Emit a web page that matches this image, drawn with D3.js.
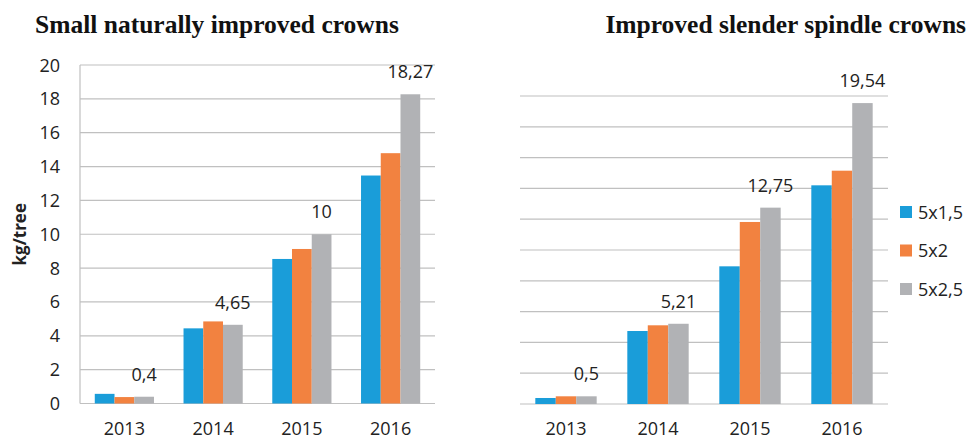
<!DOCTYPE html>
<html>
<head>
<meta charset="utf-8">
<script src="https://cdn.jsdelivr.net/npm/d3@7"></script>
<style>
  body { margin: 0; background: #fff; }
  svg { display: block; }
</style>
</head>
<body>
<script>
// data
const years = ["2013", "2014", "2015", "2016"];
const seriesNames = ["5x1,5", "5x2", "5x2,5"];
const colors = ["#1a9dd9", "#f28240", "#b1b2b5"];

// Small naturally improved crowns
const leftA = [0.57, 4.44, 8.54, 13.47];
const leftB = [0.38, 4.85, 9.13, 14.79];
const leftC = [0.4, 4.65, 10, 18.27];

// Improved slender spindle crowns
const rightA = [0.39, 4.74, 8.94, 14.2];
const rightB = [0.5, 5.11, 11.82, 15.15];
const rightC = [0.5, 5.21, 12.75, 19.54];

const yTicks = [0, 2, 4, 6, 8, 10, 12, 14, 16, 18, 20];

const svg = d3.select("body").append("svg")
  .attr("width", 969)
  .attr("height", 440);

const labelFont = "'Open Sans', 'Noto Sans', sans-serif";

function drawChart(opts) {
  const series = [opts.a, opts.b, opts.c];
  const g = svg.append("g");

  const x = d3.scaleBand().domain(years).range([opts.x0, opts.x1]).paddingInner(0.333).paddingOuter(0.1665);
  const xs = d3.scaleBand().domain([0, 1, 2]).range([0, x.bandwidth()]);
  const y = d3.scaleLinear().domain([0, 20]).range([opts.y0, opts.y1]);

  // gridlines
  g.selectAll(".grid")
    .data(yTicks)
    .join("line")
    .attr("x1", opts.x0)
    .attr("x2", opts.x1)
    .attr("y1", d => y(d))
    .attr("y2", d => y(d))
    .attr("stroke", "#c0c0c0")
    .attr("stroke-width", 1.2);

  if (opts.axis) {
    g.append("line")
      .attr("x1", opts.x0).attr("x2", opts.x0)
      .attr("y1", y(0)).attr("y2", y(20))
      .attr("stroke", "#c0c0c0")
      .attr("stroke-width", 1.2);

    g.selectAll(".ytick")
      .data(yTicks)
      .join("text")
      .attr("x", opts.x0 - 20)
      .attr("y", d => y(d) + 6.5)
      .attr("text-anchor", "end")
      .attr("font-family", labelFont)
      .attr("font-size", 18)
      .attr("fill", "#222")
      .text(d => d);

    g.append("text")
      .attr("transform", `translate(26,${(y(0) + y(20)) / 2}) rotate(-90)`)
      .attr("text-anchor", "middle")
      .attr("font-family", labelFont)
      .attr("font-weight", "bold")
      .attr("font-size", 17)
      .attr("fill", "#222")
      .text("kg/tree");
  }

  // bars
  series.forEach((vals, si) => {
    g.selectAll(".bar" + si)
      .data(vals)
      .join("rect")
      .attr("x", (d, i) => x(years[i]) + xs(si))
      .attr("y", d => y(d))
      .attr("width", xs.bandwidth())
      .attr("height", d => y(0) - y(d))
      .attr("fill", colors[si]);
  });

  // value labels on the last series
  g.selectAll(".vlab")
    .data(opts.c)
    .join("text")
    .attr("x", (d, i) => x(years[i]) + xs(2) + xs.bandwidth() / 2)
    .attr("y", d => y(d) - 16)
    .attr("text-anchor", "middle")
    .attr("font-family", labelFont)
    .attr("font-size", 18)
    .attr("fill", "#222")
    .text(d => String(d).replace(".", ","));

  // year labels
  g.selectAll(".xlab")
    .data(years)
    .join("text")
    .attr("x", d => x(d) + x.bandwidth() / 2)
    .attr("y", 434.5)
    .attr("text-anchor", "middle")
    .attr("font-family", labelFont)
    .attr("font-size", 18)
    .attr("fill", "#222")
    .text(d => d);

  // title
  svg.append("text")
    .attr("x", opts.titleX)
    .attr("y", 33)
    .attr("text-anchor", opts.titleAnchor)
    .attr("font-family", "'Liberation Serif', 'DejaVu Serif', serif")
    .attr("font-weight", "bold")
    .attr("font-size", 25.5)
    .attr("fill", "#111")
    .text(opts.title);
}

drawChart({
  a: leftA, b: leftB, c: leftC,
  x0: 80, x1: 435, y0: 403.5, y1: 65,
  axis: true,
  title: "Small naturally improved crowns",
  titleX: 35, titleAnchor: "start"
});

drawChart({
  a: rightA, b: rightB, c: rightC,
  x0: 520, x1: 888, y0: 404, y1: 96,
  axis: false,
  title: "Improved slender spindle crowns",
  titleX: 966, titleAnchor: "end"
});

// legend
const legend = svg.append("g")
  .selectAll("g")
  .data(seriesNames)
  .join("g")
  .attr("transform", (d, i) => `translate(900,${212 + i * 38.5})`);

legend.append("rect")
  .attr("x", 0).attr("y", -6)
  .attr("width", 12).attr("height", 12)
  .attr("fill", (d, i) => colors[i]);

legend.append("text")
  .attr("x", 18).attr("y", 6.5)
  .attr("font-family", labelFont)
  .attr("font-size", 18)
  .attr("fill", "#222")
  .text(d => d);
</script>
</body>
</html>
